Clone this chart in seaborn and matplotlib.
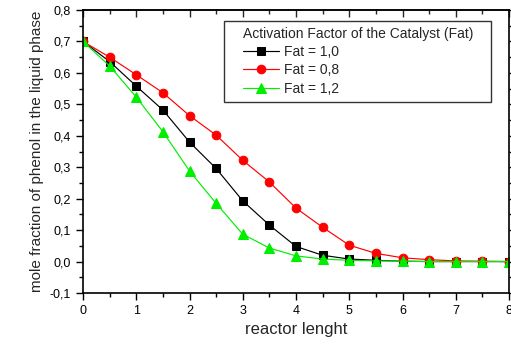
import numpy as np
import pandas as pd
import matplotlib
matplotlib.use("Agg")
import matplotlib.pyplot as plt
import matplotlib.ticker as mticker
import seaborn as sns

# reactor length positions
x = [0, 0.5, 1, 1.5, 2, 2.5, 3, 3.5, 4, 4.5, 5, 5.5, 6, 6.5, 7, 7.5, 8]

fat_10 = [0.700, 0.636, 0.558, 0.482, 0.380, 0.296, 0.193, 0.116, 0.048, 0.020,
          0.008, 0.004, 0.001, 0.0, 0.0, 0.0, 0.0]
fat_08 = [0.700, 0.650, 0.594, 0.537, 0.464, 0.402, 0.322, 0.253, 0.170, 0.109,
          0.052, 0.026, 0.012, 0.006, 0.002, 0.001, 0.0]
fat_12 = [0.700, 0.622, 0.523, 0.413, 0.288, 0.185, 0.087, 0.043, 0.018, 0.008,
          0.004, 0.002, 0.001, 0.0, 0.0, 0.0, 0.0]

labels = ['Fat = 1,0', 'Fat = 0,8', 'Fat = 1,2']

sns.set_style("ticks")
plt.rcParams['font.family'] = ['Liberation Sans', 'DejaVu Sans']

fig = plt.figure(figsize=(5.11, 3.44), dpi=100)
ax = fig.add_axes([83/511, 1 - 293/344, (509-83)/511, (293-10)/344])

styles = [(fat_10, 'black', 's', 5.5), (fat_08, 'red', 'o', 6.2), (fat_12, '#00ee00', '^', 6.5)]
for (vals, col, mk, ms), lab in zip(styles, labels):
    sns.lineplot(x=x, y=vals, ax=ax, color=col, marker=mk, markersize=ms,
                 markeredgecolor=col, linewidth=0.85, label=lab)

ax.set_xlim(0, 8)
ax.set_ylim(-0.1, 0.8)
ax.xaxis.set_major_locator(mticker.MultipleLocator(1))
ax.xaxis.set_minor_locator(mticker.MultipleLocator(0.5))
ax.yaxis.set_major_locator(mticker.MultipleLocator(0.1))
ax.yaxis.set_minor_locator(mticker.MultipleLocator(0.05))
ax.yaxis.set_major_formatter(mticker.FuncFormatter(lambda v, p: f"{v:.1f}".replace('.', ',').replace('-0,0', '0,0')))
ax.tick_params(which='both', direction='out', labelsize=9, width=1, colors='black')
ax.tick_params(which='major', length=5)
ax.tick_params(which='minor', length=3)
ax.tick_params(which='both', right=True)
for s in ax.spines.values():
    s.set_linewidth(1.2)
    s.set_color('black')

# top ticks point inward
top = ax.secondary_xaxis('top')
top.xaxis.set_major_locator(mticker.MultipleLocator(1))
top.xaxis.set_minor_locator(mticker.MultipleLocator(0.5))
top.tick_params(which='both', direction='in', labeltop=False, width=1)
top.tick_params(which='major', length=5)
top.tick_params(which='minor', length=3)
top.spines['top'].set_linewidth(1.2)

ax.set_xlabel('reactor lenght', fontsize=12)
ax.set_ylabel('mole fraction of phenol in the liquid phase', fontsize=11)

leg = ax.legend(title='Activation Factor of the Catalyst (Fat)', loc='upper right',
                bbox_to_anchor=(0.93, 0.962), borderaxespad=0, fontsize=10, title_fontsize=10,
                frameon=True, fancybox=False, edgecolor='black', handlelength=2.6,
                borderpad=0.45, labelspacing=0.3, handletextpad=0.35)
leg._legend_box.align = "left"
frame = leg.get_frame()
frame.set_linewidth(1.0)
frame.set_boxstyle('square', pad=0.85)
frame.set_mutation_aspect(0.001)

fig.savefig('out.png', dpi=100)
